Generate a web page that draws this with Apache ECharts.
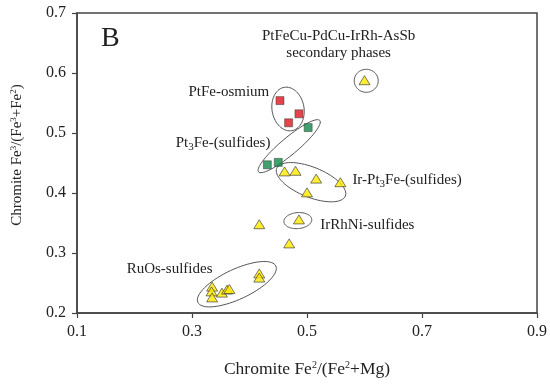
<!DOCTYPE html>
<html>
<head>
<meta charset="utf-8">
<script src="https://cdn.jsdelivr.net/npm/echarts@6/dist/echarts.min.js"></script>
<style>html,body{margin:0;padding:0;background:#fff;}#c{width:550px;height:384px;}</style>
</head>
<body>
<div id="c"></div>
<script>
// ---- data ----
const xTicks = [0.1, 0.3, 0.5, 0.7, 0.9];
const yTicks = [0.2, 0.3, 0.4, 0.5, 0.6, 0.7];

// PtFe-osmium (red squares)
const redX = [0.453, 0.486, 0.468];
const redY = [0.554, 0.532, 0.517];
// Pt3Fe-(sulfides) (green squares)
const greenX = [0.502, 0.431, 0.450];
const greenY = [0.509, 0.447, 0.451];
// triangles (yellow)
const triX = [0.600, 0.461, 0.480, 0.516, 0.558, 0.500, 0.486, 0.417, 0.469, 0.417, 0.417, 0.335, 0.334, 0.335, 0.352, 0.361, 0.365];
const triY = [0.588, 0.436, 0.437, 0.424, 0.418, 0.401, 0.356, 0.348, 0.316, 0.266, 0.259, 0.244, 0.236, 0.226, 0.234, 0.239, 0.240];

// group ellipses: centre (data), semi-axes (px), rotation (deg)
const ellCX = [0.603, 0.467, 0.469, 0.507, 0.484, 0.378];
const ellCY = [0.587, 0.540, 0.478, 0.418, 0.354, 0.248];
const ellA = [12, 16, 40, 37, 14, 43];
const ellB = [11.5, 22, 8.5, 15, 8, 15];
const ellRot = [0, 10, 40, -22, 5, 25];

// text annotations
const noteText = ['B', 'PtFeCu-PdCu-IrRh-AsSb\nsecondary phases', 'PtFe-osmium', 'Pt{sub|3}Fe-(sulfides)', 'Ir-Pt{sub|3}Fe-(sulfides)', 'IrRhNi-sulfides', 'RuOs-sulfides'];
const noteX = [0.158, 0.555, 0.364, 0.354, 0.674, 0.605, 0.261];
const noteY = [0.657, 0.648, 0.568, 0.483, 0.422, 0.347, 0.273];
const noteSize = [28, 15, 15, 15, 15, 15, 15];

const FONT = 'Liberation Serif';
const zip = (a, b) => a.map((v, i) => [v, b[i]]);

const chart = echarts.init(document.getElementById('c'), null, {renderer: 'canvas'});
chart.setOption({
  animation: false,
  backgroundColor: '#fff',
  grid: {left: 77, right: 13, top: 13, bottom: 71, show: true, borderColor: '#444', borderWidth: 1.5, backgroundColor: 'transparent'},
  xAxis: {
    type: 'value', min: xTicks[0], max: xTicks[xTicks.length - 1], interval: 0.2,
    axisLine: {show: true, lineStyle: {color: '#444', width: 1.5}},
    axisTick: {show: true, length: 5, lineStyle: {color: '#444', width: 1.2}},
    splitLine: {show: false},
    axisLabel: {color: '#222', fontFamily: FONT, fontSize: 16, margin: 11, formatter: v => v.toFixed(1)},
    name: 'Chromite Fe{sup|2}/(Fe{sup|2}+Mg)', nameLocation: 'middle', nameGap: 47,
    nameTextStyle: {color: '#222', fontFamily: FONT, fontSize: 17.5,
      rich: {sup: {fontFamily: FONT, fontSize: 10, color: '#222', padding: [0, 0, 8, 0]}}}
  },
  yAxis: {
    type: 'value', min: yTicks[0], max: yTicks[yTicks.length - 1], interval: 0.1,
    axisLine: {show: true, lineStyle: {color: '#444', width: 1.5}},
    axisTick: {show: true, length: 5, lineStyle: {color: '#444', width: 1.2}},
    splitLine: {show: false},
    axisLabel: {color: '#222', fontFamily: FONT, fontSize: 16, margin: 11, formatter: v => v.toFixed(1)},
    name: 'Chromite Fe{sup|3}/(Fe{sup|3}+Fe{sup|2})', nameLocation: 'middle', nameGap: 51,
    nameTextStyle: {color: '#222', fontFamily: FONT, fontSize: 15, padding: [0, 0, 0, 16],
      rich: {sup: {fontFamily: FONT, fontSize: 9, color: '#222', padding: [0, 0, 8, 0]}}}
  },
  series: [
    {
      type: 'custom', z: 1, silent: true,
      data: ellCX.map((x, i) => [x, ellCY[i], ellA[i], ellB[i], ellRot[i]]),
      renderItem: (params, api) => {
        const c = api.coord([api.value(0), api.value(1)]);
        const a = api.value(2), b = api.value(3), th = api.value(4) * Math.PI / 180;
        const pts = [];
        for (let k = 0; k < 72; k++) {
          const t = k / 72 * Math.PI * 2;
          const dx = a * Math.cos(t), dy = b * Math.sin(t);
          pts.push([c[0] + dx * Math.cos(th) - dy * Math.sin(th), c[1] - (dx * Math.sin(th) + dy * Math.cos(th))]);
        }
        return {type: 'polygon', shape: {points: pts}, style: {fill: 'none', stroke: '#555', lineWidth: 1}};
      }
    },
    {
      type: 'scatter', z: 3, symbol: 'rect', symbolSize: 8,
      itemStyle: {color: '#e0141e', borderColor: '#333', borderWidth: 0.6},
      data: zip(redX, redY)
    },
    {
      type: 'scatter', z: 3, symbol: 'rect', symbolSize: 8,
      itemStyle: {color: '#0f8a48', borderColor: '#333', borderWidth: 0.6},
      data: zip(greenX, greenY)
    },
    {
      type: 'scatter', z: 3, symbol: 'triangle', symbolSize: [11, 9],
      itemStyle: {color: '#ffe800', borderColor: '#333', borderWidth: 0.8},
      data: zip(triX, triY)
    },
    {
      type: 'custom', z: 4, silent: true,
      data: noteX.map((x, i) => [x, noteY[i], i]),
      renderItem: (params, api) => {
        const c = api.coord([api.value(0), api.value(1)]);
        const i = api.value(2);
        return {
          type: 'text',
          style: {
            text: noteText[i], x: c[0], y: c[1], align: 'center', verticalAlign: 'middle',
            fontFamily: FONT, fontSize: noteSize[i], fill: '#222', lineHeight: 17,
            rich: {sub: {fontFamily: FONT, fontSize: 11, fill: '#222', padding: [8, 0, 0, 0]}}
          }
        };
      }
    }
  ]
});
</script>
</body>
</html>
